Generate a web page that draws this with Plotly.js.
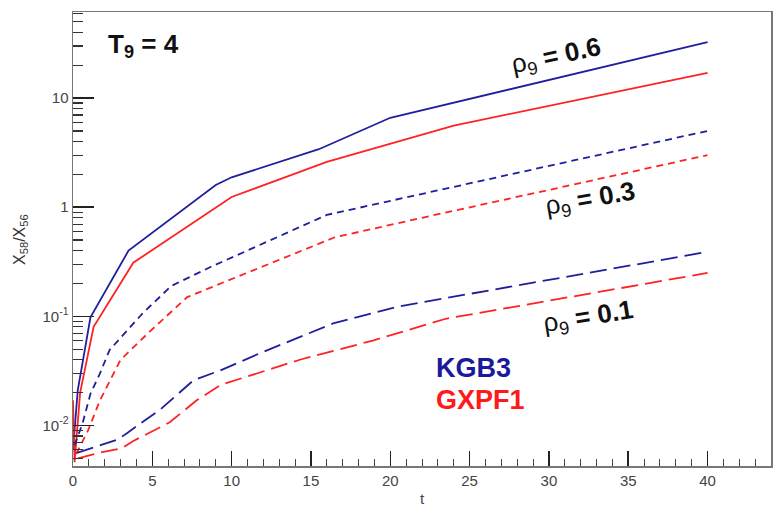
<!DOCTYPE html>
<html>
<head>
<meta charset="utf-8">
<script src="https://cdn.plot.ly/plotly-3.0.1.min.js"></script>
<style>html,body{margin:0;padding:0;background:#fff;}#chart{width:779px;height:519px;}</style>
</head>
<body>
<div id="chart"></div>
<script>
// KGB3 (blue) and GXPF1 (red), T9 = 4
const kgb3_rho06_t = [0, 0.3, 1.1, 3.5, 9, 10, 15.5, 20, 40];
const kgb3_rho06_y = [0.006, 0.021, 0.098, 0.40, 1.6, 1.88, 3.4, 6.6, 32.5];
const gxpf1_rho06_t = [0, 0.1, 0.45, 1.3, 3.8, 10, 16, 24, 40];
const gxpf1_rho06_y = [0.017, 0.0046, 0.02, 0.08, 0.31, 1.24, 2.6, 5.6, 17];

const kgb3_rho03_t = [0.1, 0.6, 1.1, 1.7, 2.3, 4.4, 6.2, 8.6, 16, 22.5, 40];
const kgb3_rho03_y = [0.0066, 0.0104, 0.0195, 0.03, 0.049, 0.107, 0.19, 0.28, 0.85, 1.37, 5.0];
const gxpf1_rho03_t = [0.2, 0.95, 1.7, 3.0, 4.9, 7.2, 11.8, 16.5, 22, 40];
const gxpf1_rho03_y = [0.0055, 0.009, 0.017, 0.04, 0.074, 0.15, 0.28, 0.53, 0.8, 3.0];

const kgb3_rho01_t = [0.25, 1.7, 2.8, 3.4, 5.5, 7.6, 9.3, 11.8, 16.4, 20.5, 40];
const kgb3_rho01_y = [0.0056, 0.0066, 0.0074, 0.0085, 0.014, 0.026, 0.032, 0.046, 0.086, 0.123, 0.39];
const gxpf1_rho01_t = [0.3, 1.6, 3.1, 3.8, 6.1, 7.8, 9.3, 14.3, 18.9, 23.5, 40];
const gxpf1_rho01_y = [0.005, 0.0056, 0.0062, 0.0072, 0.0107, 0.017, 0.0235, 0.04, 0.06, 0.095, 0.25];

const xTicks = [0, 5, 10, 15, 20, 25, 30, 35, 40];
const yTickVals = [0.01, 0.1, 1, 10];
const yTickText = ['10<sup>-2</sup>', '10<sup>-1</sup>', '1', '10'];

const BLUE = '#1f1f9e';
const RED = '#ff2222';
const FONT = '"Liberation Sans", Arial, sans-serif';

function tr(x, y, color, dash) {
  return {x: x, y: y, type: 'scatter', mode: 'lines', showlegend: false,
          line: {color: color, width: 1.8, dash: dash}, hoverinfo: 'skip'};
}

const data = [
  tr(kgb3_rho06_t, kgb3_rho06_y, BLUE, 'solid'),
  tr(gxpf1_rho06_t, gxpf1_rho06_y, RED, 'solid'),
  tr(kgb3_rho03_t, kgb3_rho03_y, BLUE, '7px,5px'),
  tr(gxpf1_rho03_t, gxpf1_rho03_y, RED, '7px,5px'),
  tr(kgb3_rho01_t, kgb3_rho01_y, BLUE, '17px,7px'),
  tr(gxpf1_rho01_t, gxpf1_rho01_y, RED, '17px,7px')
];

const aFont = {family: FONT, size: 26, color: '#111'};
function ann(x, y, text, font, angle, xanchor) {
  return {xref: 'paper', yref: 'paper', x: x, y: y, showarrow: false,
          xanchor: xanchor || 'center', yanchor: 'middle', textangle: angle || 0,
          text: text, font: font};
}
const layout = {
  width: 779, height: 519,
  margin: {l: 73, r: 8, t: 12, b: 53},
  paper_bgcolor: '#fff', plot_bgcolor: '#fff',
  font: {family: FONT},
  xaxis: {
    range: [0, 44], tickmode: 'array', tickvals: xTicks,
    ticks: 'inside', ticklen: 15, tickwidth: 1.5, tickcolor: '#222',
    minor: {ticks: 'inside', ticklen: 7, dtick: 1, tickcolor: '#444', tickwidth: 1},
    showgrid: false, zeroline: false,
    showline: true, linecolor: '#777', linewidth: 1.5, mirror: true,
    tickfont: {family: FONT, size: 15, color: '#444'},
    title: {text: 't', font: {family: FONT, size: 15, color: '#444'}, standoff: 6}
  },
  yaxis: {
    type: 'log', range: [Math.log10(0.00425), Math.log10(61.5)],
    tickmode: 'array', tickvals: yTickVals, ticktext: yTickText,
    ticks: 'inside', ticklen: 21, tickwidth: 1.5, tickcolor: '#222',
    minor: {ticks: 'inside', ticklen: 10, dtick: 'D1', tickcolor: '#333', tickwidth: 1.2},
    showgrid: false, zeroline: false,
    showline: true, linecolor: '#777', linewidth: 1.5, mirror: true,
    tickfont: {family: FONT, size: 15, color: '#444'}
  },
  annotations: [
    ann(0.1003, 0.927, '<b>T<sub>9</sub> = 4</b>', aFont),
    ann(0.693, 0.901, 'ρ<sub>9</sub> <b>= 0.6</b>', aFont, -12),
    ann(0.741, 0.586, 'ρ<sub>9</sub> <b>= 0.3</b>', aFont, -10),
    ann(0.738, 0.328, 'ρ<sub>9</sub> <b>= 0.1</b>', aFont, -9),
    ann(0.517, 0.216, '<b>KGB3</b>', {family: FONT, size: 27, color: '#1a1a9a'}, 0, 'left'),
    ann(0.517, 0.145, '<b>GXPF1</b>', {family: FONT, size: 27, color: '#ff1a1a'}, 0, 'left'),
    ann(-0.076, 0.5, 'X<sub>58</sub>/X<sub>56</sub>', {family: FONT, size: 16, color: '#333'}, -90)
  ]
};

Plotly.newPlot('chart', data, layout, {displayModeBar: false, staticPlot: true});
</script>
</body>
</html>
